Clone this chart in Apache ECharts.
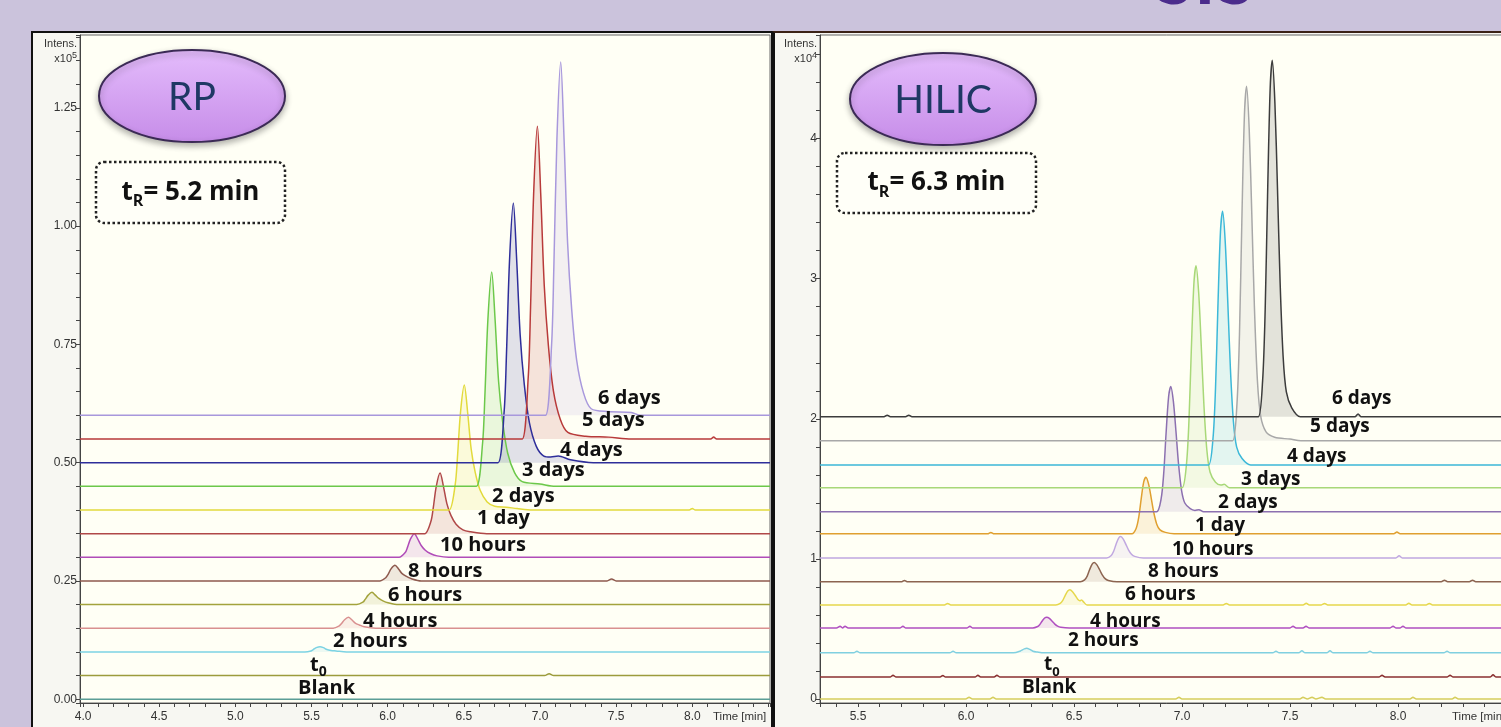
<!DOCTYPE html>
<html>
<head>
<meta charset="utf-8">
<title>RP vs HILIC chromatograms</title>
<script src="https://cdn.jsdelivr.net/npm/echarts@6/dist/echarts.min.js"></script>
<style>
  html, body { margin: 0; padding: 0; width: 1501px; height: 727px; overflow: hidden; background: #cbc3dc; }
  .frame { position: absolute; box-sizing: border-box; background: #f7f7f2; }
  #rpFrame { left: 31px; top: 31px; width: 742px; height: 720px; border: 2px solid #111; }
  #hilicFrame { left: 772px; top: 31px; width: 790px; height: 720px; border-left: 3px solid #111; border-top: 2px solid #3b2216; }
  #chart { position: absolute; left: 0; top: 0; width: 1540px; height: 727px; }
</style>
</head>
<body>
<div class="frame" id="rpFrame"></div>
<div class="frame" id="hilicFrame"></div>
<div id="chart"></div>
<script>
// axis ranges (time in min, intensity in x10^5 for RP and x10^4 for HILIC)
var rpTimeMin = 3.98, rpTimeMax = 8.51;
var rpIntMin = -0.008, rpIntMax = 1.404;
var hilicTimeMin = 5.324, hilicTimeMax = 8.53;
var hilicIntMin = -0.029, hilicIntMax = 4.74;
var lastTimeLabel = 8.0;

var sampleNames = ['Blank', 't0', '2 hours', '4 hours', '6 hours', '8 hours', '10 hours',
                   '1 day', '2 days', '3 days', '4 days', '5 days', '6 days'];

// ---- RP traces: [time, intensity above own baseline] ----
var rpOffsets = [0, 0.05, 0.10, 0.15, 0.20, 0.25, 0.30, 0.35, 0.40, 0.45, 0.50, 0.55, 0.60];
var rpColors = ['#5b9e96', '#9c9c3c', '#7dd3e3', '#d99090', '#a3a33c', '#8e5a4e', '#b04cb8',
                '#b04848', '#e2da3c', '#6cc84a', '#2e2e9a', '#b83a3a', '#a898dc'];
var rpBlank = [];
var rpT0 = [[6.95, 0], [7.03, 0], [7.06, 0.004], [7.09, 0]];
var rp2h = [[5.40, 0], [5.456, 0], [5.496, 0.002], [5.511, 0.005], [5.531, 0.009], [5.556, 0.011], [5.578, 0.009],
            [5.601, 0.005], [5.628, 0.003], [5.661, 0.002], [5.73, 0]];
var rp4h = [[5.58, 0], [5.642, 0], [5.682, 0.005], [5.697, 0.010], [5.717, 0.018], [5.742, 0.023], [5.764, 0.018],
            [5.787, 0.011], [5.814, 0.007], [5.847, 0.003], [5.92, 0]];
var rp6h = [[5.74, 0], [5.797, 0], [5.837, 0.005], [5.852, 0.011], [5.872, 0.020], [5.897, 0.026], [5.919, 0.020],
            [5.942, 0.013], [5.969, 0.008], [6.002, 0.004], [6.07, 0]];
var rp8h = [[5.89, 0], [5.948, 0], [5.988, 0.007], [6.003, 0.014], [6.023, 0.026], [6.048, 0.033], [6.070, 0.026],
            [6.093, 0.016], [6.120, 0.010], [6.153, 0.005], [6.22, 0], [7.44, 0], [7.47, 0.004], [7.50, 0]];
var rp10h = [[6.02, 0], [6.075, 0], [6.115, 0.010], [6.130, 0.021], [6.150, 0.039], [6.175, 0.050], [6.197, 0.039],
             [6.220, 0.025], [6.247, 0.015], [6.280, 0.008], [6.325, 0.003], [6.40, 0]];
var rp1d = [[6.19, 0], [6.244, 0], [6.284, 0.026], [6.299, 0.054], [6.319, 0.100], [6.344, 0.128], [6.366, 0.100],
            [6.389, 0.063], [6.416, 0.038], [6.449, 0.020], [6.494, 0.008], [6.544, 0.004], [6.65, 0]];
var rp2d = [[6.35, 0], [6.403, 0], [6.443, 0.053], [6.458, 0.111], [6.478, 0.206], [6.503, 0.264], [6.525, 0.206],
            [6.548, 0.129], [6.575, 0.079], [6.608, 0.041], [6.653, 0.017], [6.703, 0.008], [6.78, 0.006],
            [6.85, 0.003], [6.95, 0], [7.98, 0], [8.00, 0.003], [8.02, 0]];
var rp3d = [[6.53, 0], [6.583, 0], [6.623, 0.091], [6.638, 0.190], [6.658, 0.353], [6.683, 0.453], [6.705, 0.353],
            [6.728, 0.222], [6.755, 0.136], [6.788, 0.070], [6.833, 0.029], [6.883, 0.010], [7.00, 0.005], [7.10, 0]];
var rp4d = [[6.67, 0], [6.725, 0], [6.765, 0.110], [6.780, 0.231], [6.800, 0.428], [6.825, 0.549], [6.847, 0.428],
            [6.870, 0.269], [6.897, 0.165], [6.930, 0.085], [6.975, 0.035], [7.025, 0.014], [7.07, 0.012],
            [7.12, 0.014], [7.20, 0.006], [7.35, 0]];
var rp5d = [[6.83, 0], [6.883, 0], [6.923, 0.132], [6.938, 0.278], [6.958, 0.516], [6.983, 0.661], [7.005, 0.516],
            [7.028, 0.324], [7.055, 0.198], [7.088, 0.102], [7.133, 0.042], [7.183, 0.014], [7.30, 0.006],
            [7.45, 0.004], [7.60, 0], [8.12, 0], [8.14, 0.004], [8.16, 0]];
var rp6d = [[6.98, 0], [7.036, 0], [7.076, 0.149], [7.091, 0.314], [7.111, 0.583], [7.136, 0.747], [7.158, 0.583],
            [7.181, 0.366], [7.208, 0.224], [7.241, 0.116], [7.286, 0.047], [7.336, 0.014], [7.45, 0.008],
            [7.60, 0.006], [7.66, 0]];
var rpTraces = [rpBlank, rpT0, rp2h, rp4h, rp6h, rp8h, rp10h, rp1d, rp2d, rp3d, rp4d, rp5d, rp6d];
// where each trace's name sits (time, intensity)
var rpLabelX = [5.411, 5.490, 5.641, 5.838, 6.002, 6.134, 6.344, 6.587, 6.685, 6.882, 7.132, 7.276, 7.381];
var rpLabelY = [0.023, 0.072, 0.123, 0.165, 0.220, 0.271, 0.326, 0.383, 0.429, 0.484, 0.526, 0.590, 0.636];

// ---- HILIC traces ----
var hilicOffsets = [0, 0.157, 0.329, 0.507, 0.671, 0.836, 1.007, 1.179, 1.336, 1.507, 1.671, 1.843, 2.014];
var hilicColors = ['#d6ce5c', '#8a3030', '#80d0e0', '#b050c0', '#e6d84c', '#8c6450', '#c0a8e0',
                   '#e0a030', '#8c70b0', '#a8d878', '#3cb8d8', '#a8a8a8', '#3c3c3c'];
var hBlank = [[5.998, 0], [6.014, 0.012], [6.03, 0], [6.11, 0], [6.125, 0.012], [6.14, 0], [6.97, 0], [6.986, 0.012],
              [7.00, 0], [7.545, 0], [7.56, 0.012], [7.58, 0], [7.602, 0.012], [7.62, 0], [7.648, 0.012], [7.665, 0],
              [8.055, 0], [8.069, 0.012], [8.085, 0], [8.25, 0], [8.264, 0.012], [8.28, 0]];
var hT0 = [[5.65, 0], [5.662, 0.012], [5.675, 0], [5.88, 0], [5.893, 0.010], [5.905, 0], [6.043, 0], [6.055, 0.012],
           [6.068, 0], [6.13, 0], [6.143, 0.012], [6.156, 0], [7.913, 0], [7.926, 0.012], [7.94, 0], [8.228, 0],
           [8.241, 0.012], [8.254, 0], [8.427, 0], [8.44, 0.015], [8.453, 0]];
var h2h = [[5.48, 0], [5.495, 0.012], [5.51, 0], [5.925, 0], [5.94, 0.012], [5.955, 0], [6.19, 0], [6.22, 0],
           [6.25, 0.012], [6.27, 0.028], [6.281, 0.033], [6.295, 0.025], [6.31, 0.012], [6.33, 0.006], [6.36, 0],
           [7.42, 0], [7.435, 0.012], [7.45, 0], [7.54, 0], [7.555, 0.015], [7.57, 0], [7.67, 0], [7.685, 0.015],
           [7.70, 0], [7.855, 0], [7.87, 0.012], [7.885, 0], [8.212, 0], [8.227, 0.012], [8.242, 0]];
var h4h = [[5.40, 0], [5.417, 0.012], [5.428, 0], [5.44, 0.012], [5.455, 0], [5.695, 0], [5.708, 0.012], [5.72, 0],
           [6.005, 0], [6.018, 0.012], [6.03, 0], [6.28, 0], [6.309, 0], [6.329, 0.008], [6.341, 0.023],
           [6.352, 0.048], [6.364, 0.071], [6.374, 0.077], [6.386, 0.068], [6.398, 0.049], [6.410, 0.029],
           [6.424, 0.013], [6.439, 0.005], [6.479, 0], [7.50, 0], [7.514, 0.012], [7.528, 0], [7.56, 0],
           [7.574, 0.012], [7.588, 0], [7.963, 0], [7.977, 0.012], [7.99, 0], [8.01, 0], [8.023, 0.012], [8.036, 0]];
var h6h = [[5.90, 0], [5.915, 0.010], [5.93, 0], [6.386, 0], [6.416, 0], [6.436, 0.011], [6.448, 0.032],
           [6.459, 0.067], [6.471, 0.099], [6.481, 0.108], [6.493, 0.095], [6.505, 0.069], [6.517, 0.041],
           [6.527, 0.030], [6.535, 0.036], [6.545, 0.020], [6.56, 0], [7.19, 0], [7.205, 0.010], [7.22, 0],
           [7.56, 0], [7.575, 0.012], [7.59, 0], [7.645, 0], [7.66, 0.010], [7.675, 0], [8.035, 0], [8.05, 0.012],
           [8.065, 0], [8.13, 0], [8.145, 0.010], [8.16, 0]];
var h8h = [[5.70, 0], [5.715, 0.010], [5.73, 0], [6.499, 0], [6.529, 0], [6.549, 0.014], [6.561, 0.041],
           [6.572, 0.086], [6.584, 0.127], [6.594, 0.138], [6.606, 0.121], [6.618, 0.088], [6.630, 0.052],
           [6.644, 0.023], [6.659, 0.010], [6.699, 0], [8.20, 0], [8.215, 0.012], [8.23, 0], [8.33, 0],
           [8.345, 0.012], [8.36, 0]];
var h10h = [[6.621, 0], [6.651, 0], [6.671, 0.015], [6.683, 0.046], [6.694, 0.094], [6.706, 0.140], [6.716, 0.152],
            [6.728, 0.134], [6.740, 0.097], [6.752, 0.058], [6.766, 0.026], [6.781, 0.011], [6.821, 0],
            [7.99, 0], [8.005, 0.015], [8.02, 0]];
var h1d = [[6.10, 0], [6.115, 0.010], [6.13, 0], [6.738, 0], [6.768, 0], [6.788, 0.040], [6.800, 0.121],
           [6.811, 0.250], [6.823, 0.372], [6.833, 0.404], [6.845, 0.356], [6.857, 0.259], [6.869, 0.154],
           [6.883, 0.069], [6.898, 0.028], [6.923, 0.010], [6.963, 0], [7.98, 0], [7.995, 0.012], [8.01, 0]];
var h2d = [[6.853, 0], [6.883, 0], [6.903, 0.090], [6.915, 0.269], [6.926, 0.555], [6.938, 0.823], [6.948, 0.895],
           [6.960, 0.788], [6.972, 0.573], [6.984, 0.340], [6.998, 0.152], [7.013, 0.063], [7.038, 0.022],
           [7.06, 0.010], [7.078, 0.015], [7.10, 0]];
var h3d = [[6.970, 0], [7.000, 0], [7.020, 0.159], [7.032, 0.476], [7.043, 0.983], [7.055, 1.459], [7.065, 1.586],
           [7.077, 1.396], [7.089, 1.015], [7.101, 0.603], [7.115, 0.270], [7.130, 0.111], [7.155, 0.040],
           [7.18, 0.020], [7.195, 0.025], [7.22, 0]];
var h4d = [[7.093, 0], [7.123, 0], [7.143, 0.181], [7.155, 0.543], [7.166, 1.122], [7.178, 1.665], [7.188, 1.810],
           [7.200, 1.593], [7.212, 1.158], [7.224, 0.688], [7.238, 0.308], [7.253, 0.127], [7.278, 0.045],
           [7.318, 0]];
var h5d = [[7.204, 0], [7.234, 0], [7.254, 0.253], [7.266, 0.759], [7.277, 1.569], [7.289, 2.329], [7.299, 2.531],
           [7.311, 2.227], [7.323, 1.620], [7.335, 0.962], [7.349, 0.430], [7.364, 0.177], [7.389, 0.063],
           [7.429, 0.025], [7.50, 0.012], [7.55, 0]];
var h6d = [[5.62, 0], [5.635, 0.012], [5.65, 0], [5.72, 0], [5.735, 0.012], [5.75, 0], [7.323, 0], [7.353, 0],
           [7.373, 0.255], [7.385, 0.764], [7.396, 1.578], [7.408, 2.341], [7.418, 2.545], [7.430, 2.240],
           [7.442, 1.629], [7.454, 0.967], [7.468, 0.433], [7.483, 0.178], [7.508, 0.064], [7.548, 0],
           [7.80, 0], [7.815, 0.020], [7.83, 0]];
var hilicTraces = [hBlank, hT0, h2h, h4h, h6h, h8h, h10h, h1d, h2d, h3d, h4d, h5d, h6d];
var hilicLabelX = [6.259, 6.361, 6.472, 6.574, 6.736, 6.843, 6.954, 7.060, 7.167, 7.273, 7.486, 7.593, 7.694];
var hilicLabelY = [0.079, 0.243, 0.414, 0.550, 0.743, 0.907, 1.064, 1.236, 1.400, 1.564, 1.729, 1.943, 2.143];

var labelFont = 'Open Sans';
var tickFont = 'Liberation Sans';

function buildSeries(traces, offsets, colors, tMin, tMax, axisIndex, labelX, labelY, fontSize) {
  var list = [];
  for (var i = 0; i < traces.length; i++) {
    var base = offsets[i];
    var pts = [[tMin, base]];
    for (var j = 0; j < traces[i].length; j++) {
      pts.push([traces[i][j][0], traces[i][j][1] + base]);
    }
    pts.push([tMax, base]);
    var text = sampleNames[i] === 't0' ? '{m|t}{s|0}' : '{m|' + sampleNames[i] + '}';
    list.push({
      name: sampleNames[i],
      type: 'line',
      xAxisIndex: axisIndex,
      yAxisIndex: axisIndex,
      data: pts,
      symbol: 'none',
      smooth: 0.3,
      silent: true,
      animation: false,
      lineStyle: { color: colors[i], width: 1.5 },
      itemStyle: { color: colors[i] },
      areaStyle: { color: colors[i], opacity: 0.14, origin: base },
      markPoint: {
        symbol: 'circle',
        symbolSize: 0,
        silent: true,
        label: {
          show: true,
          position: 'right',
          distance: 0,
          formatter: text,
          rich: {
            m: { fontFamily: labelFont, fontWeight: 'bold', fontSize: fontSize, color: '#111', lineHeight: fontSize + 8 },
            s: { fontFamily: labelFont, fontWeight: 'bold', fontSize: Math.round(fontSize * 0.7), color: '#111',
                 verticalAlign: 'bottom', lineHeight: Math.round(fontSize * 0.7) }
          }
        },
        data: [{ coord: [labelX[i], labelY[i]] }]
      }
    });
  }
  return list;
}

// tick labels only every half minute, and none past the last labelled time
function halfMinute(v) {
  var k = v * 2;
  if (v > lastTimeLabel + 1e-6) return '';
  return Math.abs(k - Math.round(k)) < 1e-6 ? v.toFixed(1) : '';
}
function quarterTick(v) {
  var k = v * 4;
  return (v > -1e-6 && Math.abs(k - Math.round(k)) < 1e-6) ? Math.abs(v).toFixed(2) : '';
}
function wholeTick(v) {
  return (v > -1e-6 && Math.abs(v - Math.round(v)) < 1e-6) ? String(Math.round(v)) : '';
}

function timeAxis(idx, tMin, tMax, splitNumber) {
  return {
    gridIndex: idx, type: 'value', min: tMin, max: tMax, splitNumber: splitNumber,
    axisLine: { onZero: false, lineStyle: { color: '#444', width: 1 } },
    axisTick: { show: true, length: 4, lineStyle: { color: '#444' } },
    axisLabel: { margin: 8, color: '#333', fontFamily: tickFont, fontSize: 12, formatter: halfMinute },
    splitLine: { show: false }
  };
}
function intensityAxis(idx, vMin, vMax, splitNumber, fmt) {
  return {
    gridIndex: idx, type: 'value', min: vMin, max: vMax, splitNumber: splitNumber,
    axisLine: { show: true, lineStyle: { color: '#444', width: 1 } },
    axisTick: { show: true, length: 4, lineStyle: { color: '#444' } },
    axisLabel: { margin: 3, color: '#333', fontFamily: tickFont, fontSize: 12, formatter: fmt },
    splitLine: { show: false }
  };
}

var ovalFill = new echarts.graphic.LinearGradient(0, 0, 0, 1, [
  { offset: 0, color: '#e4bcfc' }, { offset: 1, color: '#c68ce8' }
]);
function oval(cx, cy, title) {
  return [
    { type: 'ellipse', shape: { cx: cx, cy: cy, rx: 93, ry: 46 },
      style: { fill: ovalFill, stroke: '#3b2a55', lineWidth: 2, shadowBlur: 6,
               shadowColor: 'rgba(0,0,0,0.3)', shadowOffsetY: 3 } },
    { type: 'text', x: cx, y: cy + 1,
      style: { text: title, fontFamily: 'Lato', fontSize: 39, fill: '#1f3864', align: 'center', verticalAlign: 'middle' } }
  ];
}
function retentionBox(x, y, w, h, value) {
  return [
    { type: 'rect', shape: { x: x, y: y, width: w, height: h, r: 8 },
      style: { fill: '#fffff8', stroke: '#222', lineWidth: 2.5, lineDash: [2.5, 2.5] } },
    { type: 'text', x: x + w / 2, y: y + h / 2,
      style: {
        text: '{t|t}{s|R}{t|= ' + value + ' min}', align: 'center', verticalAlign: 'middle',
        rich: {
          t: { fontFamily: labelFont, fontWeight: 'bold', fontSize: 26, fill: '#111', lineHeight: 34 },
          s: { fontFamily: labelFont, fontWeight: 'bold', fontSize: 16, fill: '#111', lineHeight: 16, verticalAlign: 'bottom' }
        }
      } }
  ];
}
function intensLabel(x, power) {
  return [
    { type: 'text', x: x, y: 44,
      style: { text: 'Intens.', fontFamily: tickFont, fontSize: 11, fill: '#333', align: 'right', verticalAlign: 'middle' } },
    { type: 'text', x: x, y: 59,
      style: {
        text: '{b|x10}{p|' + power + '}', align: 'right', verticalAlign: 'middle',
        rich: {
          b: { fontFamily: tickFont, fontSize: 11, fill: '#333', lineHeight: 16 },
          p: { fontFamily: tickFont, fontSize: 9, fill: '#333', lineHeight: 9, verticalAlign: 'top' }
        }
      } }
  ];
}
function timeName(x) {
  return { type: 'text', x: x, y: 717,
           style: { text: 'Time [min]', fontFamily: tickFont, fontSize: 11.5, fill: '#333',
                    align: 'left', verticalAlign: 'middle' } };
}

var graphics = []
  .concat(intensLabel(77, 5))
  .concat(intensLabel(817, 4))
  .concat(oval(192, 96, 'RP'))
  .concat(oval(943, 99, 'HILIC'))
  .concat(retentionBox(96, 162, 189, 61, '5.2'))
  .concat(retentionBox(837, 153, 199, 60, '6.3'))
  .concat([timeName(713), timeName(1452)])
  .concat([{ type: 'text', x: 1205, y: 17,
             style: { text: 'SIS', fontFamily: 'Lato', fontWeight: 'bold', fontSize: 72, fill: '#4b2c8c',
                      align: 'center', verticalAlign: 'bottom' } }]);

var chart = echarts.init(document.getElementById('chart'));
chart.setOption({
  animation: false,
  backgroundColor: 'transparent',
  grid: [
    { left: 80, top: 35, width: 690, height: 668, outerBoundsMode: 'none', containLabel: false,
      show: true, backgroundColor: '#fffff5', borderColor: '#666', borderWidth: 1 },
    { left: 820, top: 35, width: 692.5, height: 668, outerBoundsMode: 'none', containLabel: false,
      show: true, backgroundColor: '#fffff5', borderColor: '#666', borderWidth: 1 }
  ],
  xAxis: [
    timeAxis(0, rpTimeMin, rpTimeMax, 45),
    timeAxis(1, hilicTimeMin, hilicTimeMax, 32)
  ],
  yAxis: [
    intensityAxis(0, rpIntMin, rpIntMax, 28, quarterTick),
    intensityAxis(1, hilicIntMin, hilicIntMax, 24, wholeTick)
  ],
  series: buildSeries(rpTraces, rpOffsets, rpColors, rpTimeMin, rpTimeMax, 0, rpLabelX, rpLabelY, 20)
    .concat(buildSeries(hilicTraces, hilicOffsets, hilicColors, hilicTimeMin, hilicTimeMax, 1, hilicLabelX, hilicLabelY, 19)),
  graphic: graphics
});
</script>
</body>
</html>
